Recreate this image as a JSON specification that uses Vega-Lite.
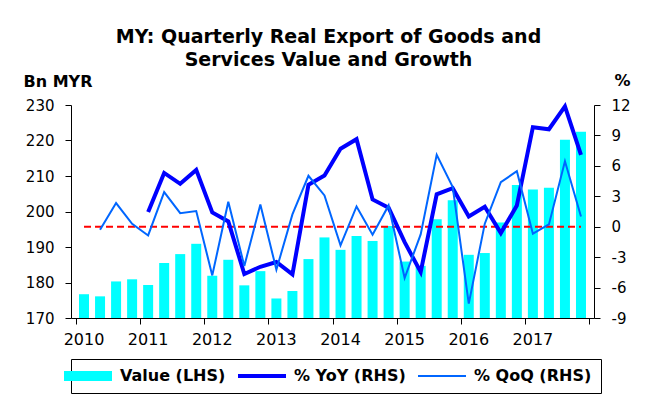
{
  "$schema": "https://vega.github.io/schema/vega-lite/v6.json",
  "width": 523,
  "height": 213,
  "autosize": {"type": "none"},
  "padding": {"left": 71, "top": 105, "right": 52, "bottom": 86},
  "background": "white",
  "title": {
    "text": ["MY: Quarterly Real Export of Goods and", "Services Value and Growth"],
    "font": "DejaVu Sans",
    "fontSize": 19,
    "fontWeight": "bold",
    "lineHeight": 23,
    "color": "black",
    "anchor": "middle",
    "dx": -4,
    "offset": 2
  },
  "config": {
    "font": "DejaVu Sans",
    "view": {"stroke": null},
    "axis": {
      "domainColor": "black",
      "tickColor": "black",
      "labelColor": "black",
      "titleColor": "black",
      "grid": false,
      "tickSize": 6,
      "domainWidth": 1,
      "tickWidth": 1,
      "labelFont": "DejaVu Sans",
      "titleFont": "DejaVu Sans",
      "labelOverlap": false
    }
  },
  "data": {
    "values": [
      {"t": 2010.125, "value": 176.7, "yoy": null, "qoq": null},
      {"t": 2010.375, "value": 176.1, "yoy": null, "qoq": -0.3},
      {"t": 2010.625, "value": 180.3, "yoy": null, "qoq": 2.33},
      {"t": 2010.875, "value": 180.9, "yoy": null, "qoq": 0.29},
      {"t": 2011.125, "value": 179.3, "yoy": 1.44, "qoq": -0.86},
      {"t": 2011.375, "value": 185.5, "yoy": 5.3, "qoq": 3.41},
      {"t": 2011.625, "value": 188.0, "yoy": 4.23, "qoq": 1.34},
      {"t": 2011.875, "value": 190.9, "yoy": 5.6, "qoq": 1.54},
      {"t": 2012.125, "value": 181.9, "yoy": 1.41, "qoq": -4.8},
      {"t": 2012.375, "value": 186.4, "yoy": 0.52, "qoq": 2.46},
      {"t": 2012.625, "value": 179.2, "yoy": -4.66, "qoq": -3.88},
      {"t": 2012.875, "value": 183.2, "yoy": -3.95, "qoq": 2.2},
      {"t": 2013.125, "value": 175.5, "yoy": -3.48, "qoq": -4.24},
      {"t": 2013.375, "value": 177.6, "yoy": -4.7, "qoq": 1.21},
      {"t": 2013.625, "value": 186.6, "yoy": 4.13, "qoq": 5.02},
      {"t": 2013.875, "value": 192.7, "yoy": 5.05, "qoq": 3.08},
      {"t": 2014.125, "value": 189.2, "yoy": 7.68, "qoq": -1.84},
      {"t": 2014.375, "value": 193.1, "yoy": 8.63, "qoq": 2.0},
      {"t": 2014.625, "value": 191.7, "yoy": 2.69, "qoq": -0.79},
      {"t": 2014.875, "value": 195.9, "yoy": 1.87, "qoq": 2.1},
      {"t": 2015.125, "value": 185.9, "yoy": -1.52, "qoq": -5.06},
      {"t": 2015.375, "value": 184.7, "yoy": -4.47, "qoq": -0.76},
      {"t": 2015.625, "value": 197.8, "yoy": 3.2, "qoq": 7.09},
      {"t": 2015.875, "value": 203.2, "yoy": 3.8, "qoq": 3.9},
      {"t": 2016.125, "value": 187.8, "yoy": 1.01, "qoq": -7.58},
      {"t": 2016.375, "value": 188.3, "yoy": 1.97, "qoq": 0.3},
      {"t": 2016.625, "value": 196.9, "yoy": -0.63, "qoq": 4.39},
      {"t": 2016.875, "value": 207.5, "yoy": 2.1, "qoq": 5.47},
      {"t": 2017.125, "value": 206.2, "yoy": 9.81, "qoq": -0.69},
      {"t": 2017.375, "value": 206.7, "yoy": 9.61, "qoq": 0.23},
      {"t": 2017.625, "value": 220.2, "yoy": 11.87, "qoq": 6.46},
      {"t": 2017.875, "value": 222.5, "yoy": 7.09, "qoq": 1.01}
    ]
  },
  "encoding": {
    "x": {
      "field": "t",
      "type": "quantitative",
      "scale": {"domain": [2010, 2018], "nice": false, "zero": false},
      "axis": {
        "title": null,
        "values": [2010, 2011, 2012, 2013, 2014, 2015, 2016, 2017, 2018],
        "labelExpr": "datum.value < 2018 ? '' + datum.value : ''",
        "labelFontSize": 16,
        "labelOffset": 7.5,
        "labelPadding": 7,
        "labelFlush": false
      }
    }
  },
  "layer": [
    {
      "mark": {"type": "bar", "width": 10},
      "encoding": {
        "y": {
          "field": "value",
          "type": "quantitative",
          "scale": {"domain": [170, 230], "nice": false, "zero": false},
          "axis": {
            "values": [170, 180, 190, 200, 210, 220, 230],
            "title": "Bn MYR",
            "titleAngle": 0,
            "titleAlign": "left",
            "titleBaseline": "alphabetic",
            "titleX": -48,
            "titleY": -19,
            "titleFontSize": 16,
            "titleFontWeight": "bold",
            "labelFontSize": 15,
            "labelPadding": 11,
            "labelOverlap": false
          }
        },
        "y2": {"datum": 170},
        "color": {
          "datum": "Value (LHS)",
          "type": "nominal",
          "scale": {
            "domain": ["Value (LHS)", "% YoY (RHS)", "% QoQ (RHS)"],
            "range": ["#00FFFF", "#0000FF", "#0066FF"]
          },
          "legend": {
            "title": null,
            "orient": "none",
            "legendX": 0,
            "legendY": 254,
            "direction": "horizontal",
            "symbolSize": 100,
            "symbolType": "M-4.8,-1H4.8V1H-4.8Z",
            "labelFont": "DejaVu Sans",
            "labelFontWeight": "bold",
            "labelFontSize": 16,
            "labelColor": "black",
            "labelOffset": 24,
            "columnPadding": 12,
            "padding": 9,
            "strokeColor": "black",
            "fillColor": "white",
            "encode": {
              "symbols": {
                "update": {
                  "shape": {"signal": "datum.value === 'Value (LHS)' ? 'M-4.8,-1H4.8V1H-4.8Z' : (datum.value === '% YoY (RHS)' ? 'M-4.8,-0.4H4.8V0.4H-4.8Z' : 'M-4.8,-0.2H4.8V0.2H-4.8Z')"},
                  "fill": {"scale": "color", "field": "value"},
                  "stroke": {"value": "transparent"},
                  "strokeWidth": {"value": 0},
                  "opacity": {"value": 1}
                }
              }
            }
          }
        }
      }
    },
    {
      "layer": [
        {
          "mark": {"type": "line", "color": "#FF0000", "strokeDash": [7, 4], "strokeWidth": 2},
          "encoding": {
            "y": {
              "datum": 0,
              "type": "quantitative",
              "scale": {"domain": [-9, 12], "nice": false, "zero": false},
              "axis": {
                "orient": "right",
                "values": [-9, -6, -3, 0, 3, 6, 9, 12],
                "labelExpr": "'' + datum.value",
                "labelOverlap": false,
                "title": "%",
                "titleAngle": 0,
                "titleAlign": "left",
                "titleBaseline": "alphabetic",
                "titleX": 20,
                "titleY": -20,
                "titleFontSize": 16,
                "titleFontWeight": "bold",
                "labelFontSize": 15,
                "labelPadding": 11
              }
            }
          }
        },
        {
          "mark": {"type": "line", "strokeWidth": 4},
          "encoding": {
            "y": {
              "field": "yoy",
              "type": "quantitative",
              "axis": {
                "orient": "right",
                "values": [-9, -6, -3, 0, 3, 6, 9, 12],
                "labelExpr": "'' + datum.value",
                "labelOverlap": false,
                "title": "%",
                "titleAngle": 0,
                "titleAlign": "left",
                "titleBaseline": "alphabetic",
                "titleX": 20,
                "titleY": -20,
                "titleFontSize": 16,
                "titleFontWeight": "bold",
                "labelFontSize": 15,
                "labelPadding": 11
              }
            },
            "color": {"datum": "% YoY (RHS)", "type": "nominal"}
          }
        },
        {
          "mark": {"type": "line", "strokeWidth": 2},
          "encoding": {
            "y": {
              "field": "qoq",
              "type": "quantitative",
              "axis": {
                "orient": "right",
                "values": [-9, -6, -3, 0, 3, 6, 9, 12],
                "labelExpr": "'' + datum.value",
                "labelOverlap": false,
                "title": "%",
                "titleAngle": 0,
                "titleAlign": "left",
                "titleBaseline": "alphabetic",
                "titleX": 20,
                "titleY": -20,
                "titleFontSize": 16,
                "titleFontWeight": "bold",
                "labelFontSize": 15,
                "labelPadding": 11
              }
            },
            "color": {"datum": "% QoQ (RHS)", "type": "nominal"}
          }
        }
      ]
    }
  ],
  "resolve": {"scale": {"y": "independent"}}
}
